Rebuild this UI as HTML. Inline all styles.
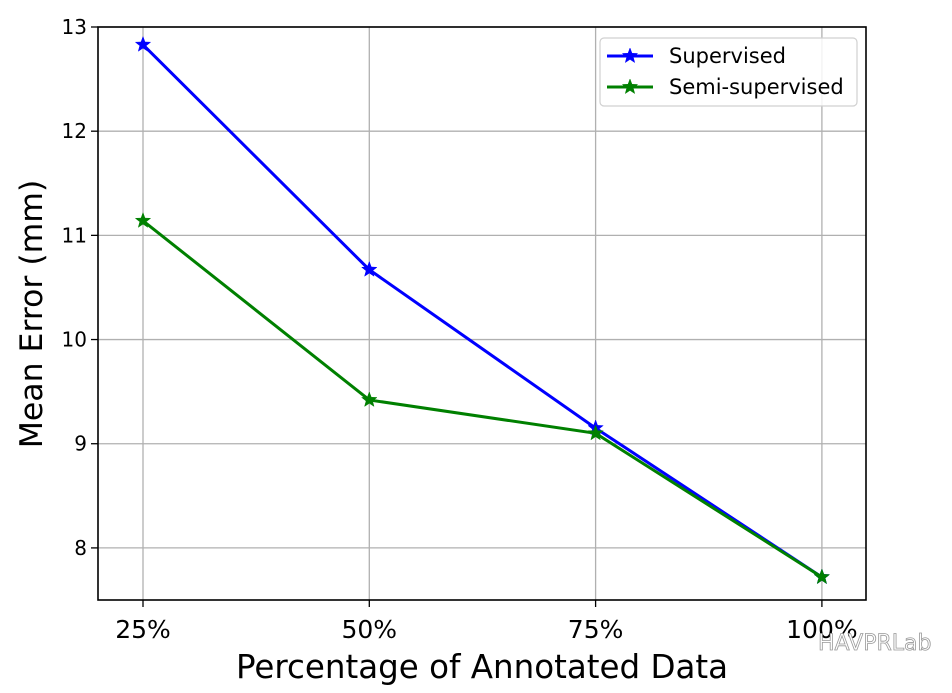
<!DOCTYPE html>
<html><head><meta charset="utf-8"><style>
html,body{margin:0;padding:0;background:#fff;width:952px;height:693px;overflow:hidden}
svg{display:block;font-family:"DejaVu Sans","Liberation Sans",sans-serif}
</style></head><body>
<svg id="chart" width="952" height="693" viewBox="0 0 952 693"></svg>
<script>
const categories = ["25%","50%","75%","100%"];
const supervised = [12.83,10.67,9.15,7.72];
const semiSupervised = [11.14,9.42,9.10,7.72];
const yTicks = [8,9,10,11,12,13];

const L=98,R=866,T=27,B=600;
const yMin=7.5,yMax=13.0;
const x=i=>143+i*226.3;
const y=v=>B-(v-yMin)/(yMax-yMin)*(B-T);
const NS="http://www.w3.org/2000/svg";
const svg=document.getElementById('chart');
function mk(tag,attrs,parent){const e=document.createElementNS(NS,tag);for(const k in attrs)e.setAttribute(k,attrs[k]);(parent||svg).appendChild(e);return e;}

const grid=mk('g',{});


categories.forEach((c,i)=>{
  const l=mk('line',{x1:x(i),x2:x(i),y1:T,y2:B,stroke:'#b0b0b0','stroke-width':1.3},grid);
  
  
  const t=mk('line',{x1:x(i),x2:x(i),y1:B,y2:B+7,stroke:'#000','stroke-width':1.3});
  
  
  const tx=mk('text',{x:x(i),y:B+38,'text-anchor':'middle','font-size':25,fill:'#000'});
  tx.textContent=c;
  
  
});
yTicks.forEach(v=>{
  const l=mk('line',{x1:L,x2:R,y1:y(v),y2:y(v),stroke:'#b0b0b0','stroke-width':1.3},grid);
  
  
  const t=mk('line',{x1:L-7,x2:L,y1:y(v),y2:y(v),stroke:'#000','stroke-width':1.3});
  
  
  const tx=mk('text',{x:L-11,y:y(v)+7,'text-anchor':'end','font-size':20,fill:'#000'});
  tx.textContent=v;
  
  
});
const frame=mk('rect',{x:L,y:T,width:R-L,height:B-T,fill:'none',stroke:'#000','stroke-width':1.6});



function star(cx,cy,r,color,parent){
  let p=[];for(let k=0;k<10;k++){const a=-Math.PI/2+k*Math.PI/5;const rr=k%2?r*0.42:r;p.push((cx+rr*Math.cos(a)).toFixed(1)+','+(cy+rr*Math.sin(a)).toFixed(1));}
  return mk('polygon',{points:p.join(' '),fill:color,stroke:color,'stroke-width':0.5},parent);
}
function series(vals,color,name){
  const g=mk('g',{});
  
  
  const pl=mk('polyline',{points:vals.map((v,i)=>x(i)+','+y(v)).join(' '),fill:'none',stroke:color,'stroke-width':3},g);
  
  
  vals.forEach((v,i)=>{
    const s=star(x(i),y(v),8,color,g);
    
    
  });
}
series(supervised,'#0000ff','supervised');
series(semiSupervised,'#008000','semi-supervised');

const lg=mk('g',{});


mk('rect',{x:600,y:38,width:257,height:68,rx:4,fill:'#fff','fill-opacity':0.85,stroke:'#d0d0d0','stroke-width':1.2},lg);
[['Supervised','#0000ff',56],['Semi-supervised','#008000',87]].forEach(([lab,c,yy])=>{
  const e=mk('g',{},lg);
  
  
  mk('line',{x1:607,x2:653,y1:yy,y2:yy,stroke:c,'stroke-width':3},e);
  star(630,yy,8,c,e);
  const t=mk('text',{x:669,y:yy+7,'font-size':21,fill:'#000'},e);
  t.textContent=lab;
});

const yt=mk('text',{x:42,y:314,'text-anchor':'middle','font-size':31.5,fill:'#000',transform:'rotate(-90 42 314)'});
yt.textContent='Mean Error (mm)';


const xt=mk('text',{x:482,y:678,'text-anchor':'middle','font-size':32.5,fill:'#000'});
xt.textContent='Percentage of Annotated Data';


const wm=mk('text',{x:818,y:650,'font-size':22,fill:'#fff',stroke:'#999','stroke-width':0.8});
wm.textContent='HAVPRLab';


</script>
</body></html>
